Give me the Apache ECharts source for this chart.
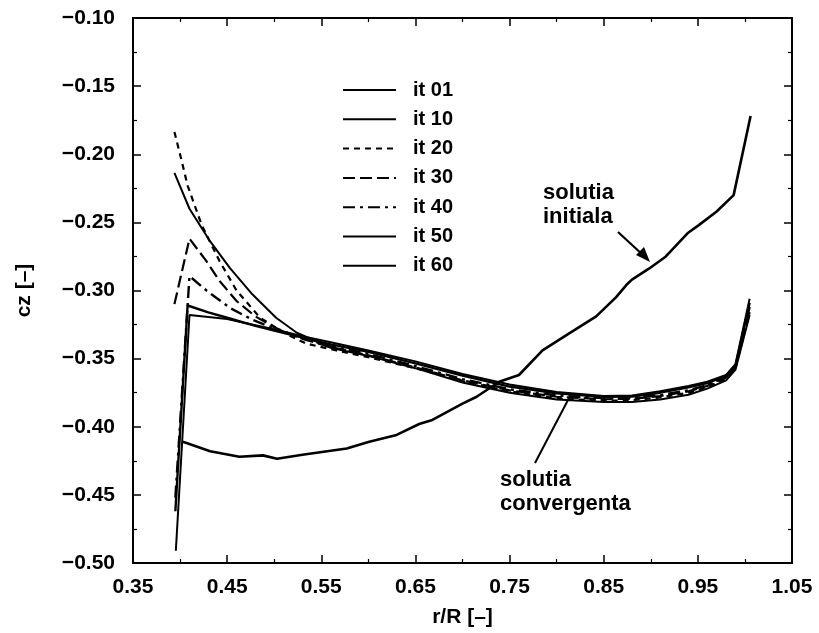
<!DOCTYPE html>
<html>
<head>
<meta charset="utf-8">
<script src="https://cdn.jsdelivr.net/npm/echarts@6/dist/echarts.min.js"></script>
<style>
html,body{margin:0;padding:0;background:#fff;}
#c{width:819px;height:633px;}
</style>
</head>
<body>
<div id="c"></div>
<script>
// ---- data ----
const seriesNames = ['it 01','it 10','it 20','it 30','it 40','it 50','it 60'];
const xMajorTicks = [0.35,0.45,0.55,0.65,0.75,0.85,0.95,1.05];
const xMinorTicks = [0.40,0.50,0.60,0.70,0.80,0.90,1.00];

const it01 = [[0.403,-0.411],[0.432,-0.418],[0.463,-0.422],[0.488,-0.421],[0.503,-0.4235],[0.530,-0.4206],[0.577,-0.416],[0.601,-0.411],[0.630,-0.406],[0.654,-0.398],[0.668,-0.395],[0.700,-0.383],[0.715,-0.378],[0.739,-0.367],[0.760,-0.362],[0.785,-0.344],[0.810,-0.333],[0.842,-0.319],[0.863,-0.305],[0.874,-0.296],[0.880,-0.292],[0.898,-0.284],[0.916,-0.275],[0.939,-0.258],[0.951,-0.252],[0.970,-0.242],[0.988,-0.230],[1.006,-0.172]];
const it10 = [[0.394,-0.2137],[0.410,-0.240],[0.432,-0.264],[0.453,-0.2836],[0.477,-0.303],[0.502,-0.320],[0.524,-0.331],[0.56,-0.342],[0.60,-0.348],[0.65,-0.357],[0.70,-0.3675],[0.75,-0.375],[0.80,-0.380],[0.85,-0.3818],[0.88,-0.3818],[0.91,-0.380],[0.94,-0.3765],[0.96,-0.372],[0.98,-0.366],[0.99,-0.358],[1.005,-0.318]];
const it20 = [[0.394,-0.1836],[0.402,-0.2057],[0.408,-0.223],[0.423,-0.252],[0.442,-0.2785],[0.460,-0.300],[0.485,-0.320],[0.513,-0.332],[0.534,-0.339],[0.566,-0.344],[0.60,-0.349],[0.65,-0.357],[0.70,-0.3665],[0.75,-0.374],[0.80,-0.3792],[0.85,-0.381],[0.88,-0.3805],[0.91,-0.3785],[0.94,-0.375],[0.96,-0.371],[0.98,-0.3645],[0.99,-0.357],[1.005,-0.316]];
const it30 = [[0.394,-0.310],[0.41,-0.262],[0.428,-0.2785],[0.442,-0.293],[0.46,-0.3077],[0.48,-0.319],[0.50,-0.327],[0.53,-0.3355],[0.56,-0.3415],[0.60,-0.3475],[0.65,-0.3565],[0.70,-0.366],[0.75,-0.3733],[0.80,-0.378],[0.85,-0.3798],[0.88,-0.3795],[0.91,-0.3775],[0.94,-0.374],[0.96,-0.370],[0.98,-0.3638],[0.99,-0.3565],[1.005,-0.314]];
const it40 = [[0.395,-0.452],[0.41,-0.2894],[0.428,-0.300],[0.453,-0.3128],[0.477,-0.3215],[0.50,-0.328],[0.53,-0.335],[0.56,-0.341],[0.60,-0.3465],[0.65,-0.3555],[0.70,-0.365],[0.75,-0.3725],[0.80,-0.377],[0.85,-0.379],[0.88,-0.3788],[0.91,-0.3768],[0.94,-0.3732],[0.96,-0.3695],[0.98,-0.3633],[0.99,-0.356],[1.005,-0.312]];
const it50 = [[0.395,-0.462],[0.408,-0.311],[0.43,-0.316],[0.45,-0.320],[0.48,-0.326],[0.50,-0.3295],[0.53,-0.3345],[0.56,-0.3395],[0.60,-0.345],[0.65,-0.3535],[0.70,-0.3625],[0.75,-0.3705],[0.80,-0.3755],[0.85,-0.378],[0.88,-0.3778],[0.91,-0.375],[0.94,-0.371],[0.96,-0.368],[0.98,-0.3625],[0.99,-0.355],[1.005,-0.309]];
const it60 = [[0.3955,-0.491],[0.41,-0.318],[0.43,-0.3195],[0.45,-0.321],[0.48,-0.3255],[0.50,-0.3285],[0.53,-0.3335],[0.56,-0.338],[0.60,-0.344],[0.65,-0.352],[0.70,-0.3613],[0.75,-0.369],[0.80,-0.3745],[0.85,-0.3775],[0.88,-0.377],[0.91,-0.374],[0.94,-0.370],[0.96,-0.367],[0.98,-0.362],[0.99,-0.354],[1.005,-0.306]];
const seriesData = [it01,it10,it20,it30,it40,it50,it60];

// ---- styles ----
const FONT = '"Liberation Sans", Arial, Helvetica, sans-serif';
const lineStyles = [
  {width:2.6, type:'solid'},
  {width:2.0, type:'solid'},
  {width:2.2, type:[6,5]},
  {width:2.2, type:[12,5]},
  {width:2.4, type:[12,5,3,5]},
  {width:2.4, type:'solid'},
  {width:2.0, type:'solid'}
];
const fmt = v => (v < 0 ? '\u2212' : '') + Math.abs(v).toFixed(2);

const chart = echarts.init(document.getElementById('c'), null, {renderer:'canvas'});
const axisCommon = {
  type:'value', min:0.35, max:1.05, splitLine:{show:false},
  axisLine:{show:true, onZero:false, lineStyle:{color:'#000', width:2}}
};
const option = {
  backgroundColor:'#fff',
  animation:false,
  grid:{left:133, right:27, top:18, bottom:66, containLabel:false},
  legend:{
    orient:'vertical', left:342, top:80, padding:0,
    itemWidth:53, itemHeight:14, itemGap:9.3,
    data:seriesNames,
    itemStyle:{opacity:0},
    textStyle:{fontFamily:FONT, fontSize:20, fontWeight:'bold', color:'#000', padding:[0,0,0,12]}
  },
  xAxis:[
    Object.assign({}, axisCommon, {
      position:'bottom',
      axisTick:{inside:true, length:8, customValues:xMajorTicks, lineStyle:{color:'#000', width:1.5}},
      axisLabel:{customValues:xMajorTicks, formatter:fmt, margin:14, color:'#000',
        fontFamily:FONT, fontSize:21, fontWeight:'bold'},
      name:'r/R [\u2013]', nameLocation:'middle', nameGap:44,
      nameTextStyle:{fontFamily:FONT, fontSize:21, fontWeight:'bold', color:'#000'}
    }),
    Object.assign({}, axisCommon, {
      position:'bottom', axisLine:{show:false},
      axisTick:{inside:true, length:4, customValues:xMinorTicks, lineStyle:{color:'#000', width:1.2}},
      axisLabel:{show:false}
    }),
    Object.assign({}, axisCommon, {
      position:'top',
      axisTick:{inside:true, length:8, customValues:xMajorTicks, lineStyle:{color:'#000', width:1.5}},
      axisLabel:{show:false}
    }),
    Object.assign({}, axisCommon, {
      position:'top', axisLine:{show:false},
      axisTick:{inside:true, length:4, customValues:xMinorTicks, lineStyle:{color:'#000', width:1.2}},
      axisLabel:{show:false}
    })
  ],
  yAxis:[
    {
      type:'value', min:-0.5, max:-0.1, interval:0.05, position:'left',
      splitLine:{show:false},
      axisLine:{show:true, onZero:false, lineStyle:{color:'#000', width:2}},
      axisTick:{inside:true, length:8, lineStyle:{color:'#000', width:1.5}},
      minorTick:{show:true, splitNumber:2, length:4, lineStyle:{color:'#000', width:1.2}},
      axisLabel:{formatter:fmt, margin:18, color:'#000', fontFamily:FONT, fontSize:21, fontWeight:'bold'},
      name:'cz [\u2013]', nameLocation:'middle', nameGap:98,
      nameTextStyle:{fontFamily:FONT, fontSize:21, fontWeight:'bold', color:'#000'}
    },
    {
      type:'value', min:-0.5, max:-0.1, interval:0.05, position:'right',
      splitLine:{show:false},
      axisLine:{show:true, onZero:false, lineStyle:{color:'#000', width:2}},
      axisTick:{inside:true, length:8, lineStyle:{color:'#000', width:1.5}},
      minorTick:{show:true, splitNumber:2, length:4, lineStyle:{color:'#000', width:1.2}},
      axisLabel:{show:false}
    }
  ],
  series: seriesNames.map((n,i) => ({
    name:n, type:'line', data:seriesData[i], xAxisIndex:0, yAxisIndex:0,
    symbol:'none', showSymbol:false, smooth:false, z: 10 - i,
    lineStyle:Object.assign({color:'#000'}, lineStyles[i]),
    itemStyle:{color:'#000'}
  }))
};
chart.setOption(option);

// ---- annotations ----
const annFont = {fontFamily:FONT, fontSize:22, fontWeight:'bold', fill:'#000'};
chart.setOption({
  graphic:[
    {type:'text', left:543, top:181, style:Object.assign({text:'solutia\ninitiala', lineHeight:24}, annFont)},
    {type:'line', shape:{x1:618, y1:232, x2:644, y2:256}, style:{stroke:'#000', lineWidth:2.2}},
    {type:'polygon', shape:{points:[[650,262],[636,255],[644,247]]}, style:{fill:'#000'}},
    {type:'text', left:500, top:468, style:Object.assign({text:'solutia\nconvergenta', lineHeight:24}, annFont)},
    {type:'line', shape:{x1:535, y1:463, x2:568, y2:400}, style:{stroke:'#000', lineWidth:2}}
  ]
});
</script>
</body>
</html>
